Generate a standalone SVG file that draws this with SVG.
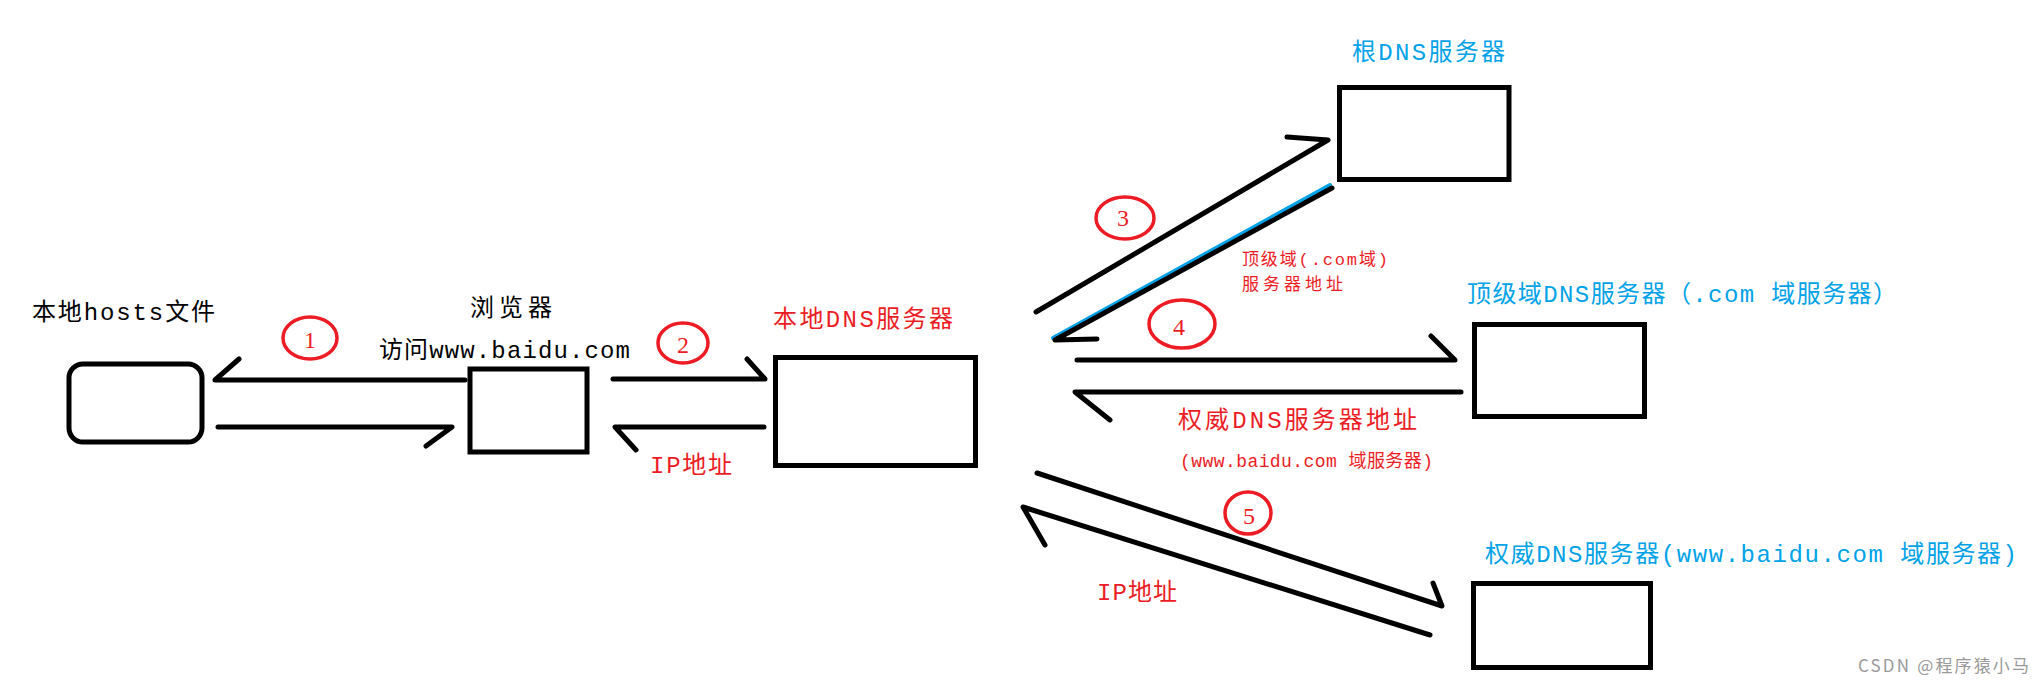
<svg xmlns="http://www.w3.org/2000/svg" width="2043" height="683" viewBox="0 0 2043 683">
<style>
.box{fill:none;stroke:#000;stroke-width:5}
.con{fill:none;stroke:#000;stroke-width:5;stroke-linecap:round;stroke-linejoin:round}
.num{fill:none;stroke:#ed1c24;stroke-width:3.5}
.t{font-family:"Liberation Mono","Noto Sans CJK SC",monospace;font-size:24px}
.blk{fill:#000}
.red{fill:#ed1c24}
.blu{fill:#00a2e8}
.n{font-family:"Liberation Serif",serif;font-size:24px;fill:#ed1c24;text-anchor:middle}
</style>
<rect width="2043" height="683" fill="#fff"/>
<g id="connectors">
<path class="con" d="M465 380 H215 L239 359"/>
<path class="con" d="M218 427 H452 L426 446"/>
<path class="con" d="M613 379 H765 L747 359"/>
<path class="con" d="M764 427 H615 L636 450"/>
<path class="con" d="M1036 312 L1328 140 L1287 137"/>
<path d="M1330 185 L1053 338" fill="none" stroke="#00a2e8" stroke-width="4" stroke-linecap="round"/>
<path class="con" d="M1332 188 L1055 340 L1097 339"/>
<path class="con" d="M1077 360 H1455 L1431 336"/>
<path class="con" d="M1461 392 H1075 L1110 420"/>
<path class="con" d="M1037 473 L1442 606 L1433 583"/>
<path class="con" d="M1430 635 L1023 507 L1045 545"/>
</g>
<g id="step1"><ellipse class="num" cx="310" cy="338" rx="27" ry="21"/><text class="n" x="310" y="348">1</text></g>
<g id="step2"><ellipse class="num" cx="683" cy="343" rx="25" ry="20"/><text class="n" x="683" y="353">2</text></g>
<g id="step3"><ellipse class="num" cx="1125" cy="218" rx="29" ry="21"/><text class="n" x="1123" y="226">3</text></g>
<g id="step4"><ellipse class="num" cx="1182" cy="324" rx="33" ry="24"/><text class="n" x="1179" y="335">4</text></g>
<g id="step5"><ellipse class="num" cx="1248" cy="513" rx="23" ry="21"/><text class="n" x="1249" y="524">5</text></g>
<g id="hosts">
<rect class="box" x="69" y="364" width="133" height="78" rx="14"/>
<text class="t blk" x="32" y="320" textLength="183">本地hosts文件</text>
</g>
<g id="browser">
<rect class="box" x="470" y="369" width="117" height="83"/>
<text class="t blk" x="470" y="316" textLength="82">浏览器</text>
<text class="t blk" x="379" y="358" textLength="251">访问www.baidu.com</text>
</g>
<g id="localdns">
<rect class="box" x="775.5" y="357.5" width="200" height="108"/>
<text class="t red" x="773" y="327" textLength="180">本地DNS服务器</text>
<text class="t red" x="650" y="473" textLength="82">IP地址</text>
</g>
<g id="rootdns">
<rect class="box" x="1339.5" y="87.5" width="169.5" height="92"/>
<text class="t blu" x="1352" y="60" textLength="153">根DNS服务器</text>
<text class="t red" x="1242" y="265" style="font-size:17px" textLength="146">顶级域(.com域)</text>
<text class="t red" x="1242" y="290" style="font-size:17px" textLength="101">服务器地址</text>
</g>
<g id="tlddns">
<rect class="box" x="1474.5" y="324.5" width="170" height="92"/>
<text class="t blu" x="1467" y="302" textLength="430">顶级域DNS服务器（.com 域服务器）</text>
<text class="t red" x="1178" y="428" textLength="239">权威DNS服务器地址</text>
<text class="t red" x="1180" y="467" style="font-size:18px" textLength="253">(www.baidu.com 域服务器)</text>
</g>
<g id="authdns">
<rect class="box" x="1473.5" y="583.5" width="177" height="84"/>
<text class="t blu" x="1485" y="562" textLength="532">权威DNS服务器(www.baidu.com 域服务器)</text>
<text class="t red" x="1097" y="600" textLength="80">IP地址</text>
</g>
<text x="1858" y="672" fill="#999" style="font-family:'Noto Sans CJK SC','Liberation Sans',sans-serif;font-size:17px" textLength="171">CSDN @程序猿小马</text>
</svg>
